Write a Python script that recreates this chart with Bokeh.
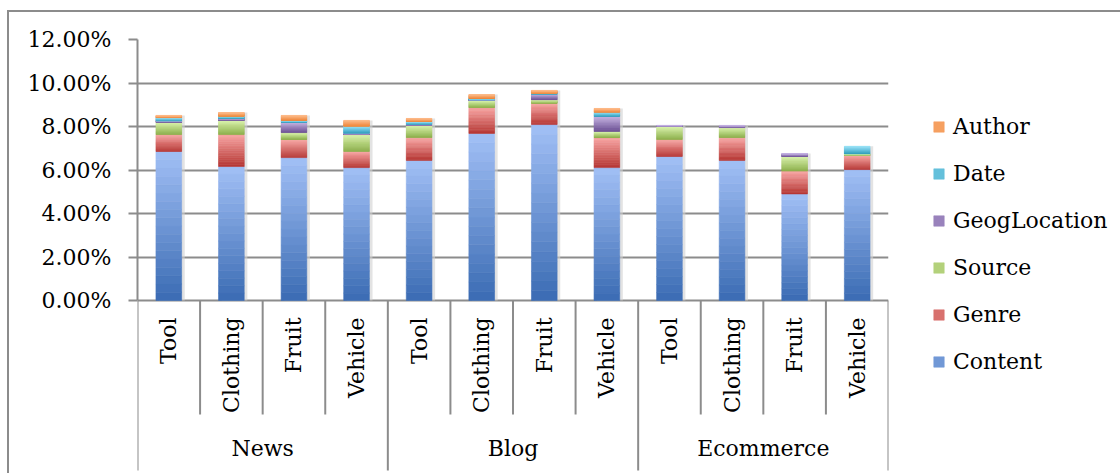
import numpy as np
from bokeh.plotting import figure
from bokeh.models import (FactorRange, Range1d, ColumnDataSource, FixedTicker,
                          PrintfTickFormatter, Legend, LegendItem)
from bokeh.core.properties import value
from bokeh.embed import file_html
from bokeh.resources import INLINE

# ---------------- data (percent) ----------------
groups = ["News", "Blog", "Ecommerce"]
categories = ["Tool", "Clothing", "Fruit", "Vehicle"]

content = [6.85, 6.16, 6.57, 6.11, 6.44, 7.68, 8.09, 6.11, 6.62, 6.44, 4.90, 6.02]
genre   = [0.78, 1.47, 0.83, 0.74, 1.05, 1.19, 0.98, 1.38, 0.78, 1.05, 1.05, 0.65]
source  = [0.57, 0.65, 0.32, 0.78, 0.56, 0.33, 0.16, 0.28, 0.60, 0.46, 0.67, 0.07]
geog    = [0.06, 0.10, 0.48, 0.06, 0.06, 0.03, 0.27, 0.70, 0.05, 0.10, 0.14, 0.00]
date    = [0.15, 0.09, 0.08, 0.32, 0.12, 0.06, 0.03, 0.19, 0.00, 0.00, 0.00, 0.35]
author  = [0.10, 0.17, 0.23, 0.27, 0.14, 0.18, 0.13, 0.17, 0.00, 0.00, 0.00, 0.00]

series_names = ["Content", "Genre", "Source", "GeogLocation", "Date", "Author"]
series_values = [content, genre, source, geog, date, author]
y_ticks = [0, 2, 4, 6, 8, 10, 12]

# ---------------- style ----------------
dark = ["#3A6BB3", "#B53532", "#89AC46", "#684B91", "#2A9BBB", "#EF8333"]
light = ["#A2C0F6", "#F8A6A4", "#D9F3AB", "#C5B3E2", "#97E2F7", "#FDBA88"]
FONT = "DejaVu Serif"
GRAY = "#8c8c8c"
PX = 21.75            # pixels per percent
N_SLICES = 18
OX, OY = 9, 12        # canvas offset inside the outer chart border
BAR_W = 0.41


def mix(c0, c1, t):
    a = [int(c0[i:i + 2], 16) for i in (1, 3, 5)]
    b = [int(c1[i:i + 2], 16) for i in (1, 3, 5)]
    return "#%02x%02x%02x" % tuple(int(round(a[j] + (b[j] - a[j]) * t)) for j in range(3))


factors = [(g, c) for g in groups for c in categories]

y_bottom = -(473 - 300) / PX
p = figure(x_range=FactorRange(factors=factors, factor_padding=0, group_padding=0,
                               range_padding=0),
           y_range=Range1d(y_bottom, 12),
           frame_width=888 - 137, frame_height=473 - 39,
           output_backend="svg", toolbar_location=None,
           x_axis_location=None,
           min_border_left=137 - OX, min_border_right=232, min_border_top=39 - OY,
           min_border_bottom=0)
p.styles = {"margin-left": "7px", "margin-top": "10px",
            "border-left": "2px solid " + GRAY, "border-top": "2px solid " + GRAY}
p.outline_line_color = None
p.background_fill_color = "white"
p.border_fill_color = "white"

# y axis
p.yaxis.ticker = FixedTicker(ticks=y_ticks)
p.yaxis.bounds = (0, 12)
p.yaxis.formatter = PrintfTickFormatter(format="%.2f%%")
p.yaxis.major_label_text_font = FONT
p.yaxis.major_label_text_font_size = "22px"
p.yaxis.major_label_text_color = "#000000"
p.yaxis.axis_line_color = GRAY
p.yaxis.axis_line_width = 2
p.yaxis.major_tick_line_color = GRAY
p.yaxis.major_tick_line_width = 2
p.yaxis.major_tick_out = 9
p.yaxis.major_tick_in = 0
p.yaxis.minor_tick_line_color = None
p.yaxis.major_label_standoff = 17
p.xgrid.grid_line_color = None
p.ygrid.ticker = FixedTicker(ticks=y_ticks)
p.ygrid.grid_line_color = GRAY
p.ygrid.grid_line_width = 2

# soft shadow behind each stacked bar (offset to the right)
totals = np.sum(np.array(series_values, dtype=float), axis=0)
shadow_x = [(g, c, 0.05) for g, c in factors]
p.vbar(x=shadow_x, bottom=0, top=totals, width=BAR_W, fill_color="#d0d0d0",
       fill_alpha=0.6, line_color=None)

# stacked bars with gradient slices
base = np.zeros(len(factors))
legend_refs = []
for name, vals, c0, c1 in zip(series_names, series_values, dark, light):
    vals = np.array(vals, dtype=float)
    xs, bots, tops, cols = [], [], [], []
    idx = 0
    for k in range(N_SLICES):
        col = mix(c0, c1, (k + 0.5) / N_SLICES)
        for i in range(len(factors)):
            if vals[i] <= 0:
                continue
            if k == N_SLICES // 2 and idx == 0:
                idx = len(xs)
            xs.append(factors[i])
            bots.append(base[i] + vals[i] * k / N_SLICES)
            tops.append(base[i] + vals[i] * (k + 1) / N_SLICES)
            cols.append(col)
    src = ColumnDataSource(dict(x=xs, bottom=bots, top=tops, color=cols))
    r = p.vbar(x="x", bottom="bottom", top="top", width=BAR_W, source=src,
               fill_color="color", line_color="color", line_width=0.6)
    legend_refs.append((name, r, idx))
    base += vals

# category separators
short_end = -(414 - 300) / PX
long_end = -(470 - 300) / PX
sx, sy1 = [], []
for g in groups:
    sx.append((g, categories[0], -0.5))
    sy1.append(long_end)
    for c in categories[:-1]:
        sx.append((g, c, 0.5))
        sy1.append(short_end)
sx.append((groups[-1], categories[-1], 0.5))
sy1.append(long_end)
p.segment(x0=sx, y0=[0] * len(sx), x1=sx, y1=sy1, line_color=GRAY, line_width=2)

# category labels (rotated) and group labels
cat_top = -(317 - 300) / PX
p.text(x=factors, y=[cat_top] * len(factors), text=[c for g, c in factors],
       angle=np.pi / 2, text_align="right", text_baseline="middle",
       text_font=value(FONT), text_font_size="22px", text_color="#000000")
group_y = -(448 - 300) / PX
p.text(x=groups, y=[group_y] * len(groups), text=groups,
       text_align="center", text_baseline="middle",
       text_font=value(FONT), text_font_size="22px", text_color="#000000")

# legend in the right-hand panel
items = [LegendItem(label=n, renderers=[r], index=i) for n, r, i in reversed(legend_refs)]
legend = Legend(items=items, location=(44, 99), padding=0, margin=0,
                glyph_width=13, glyph_height=13, label_standoff=8, spacing=22,
                label_text_font=FONT, label_text_font_size="22px",
                label_text_color="#000000", border_line_color=None,
                background_fill_alpha=0)
p.add_layout(legend, "right")

open("out.html", "w").write(file_html(p, INLINE))
